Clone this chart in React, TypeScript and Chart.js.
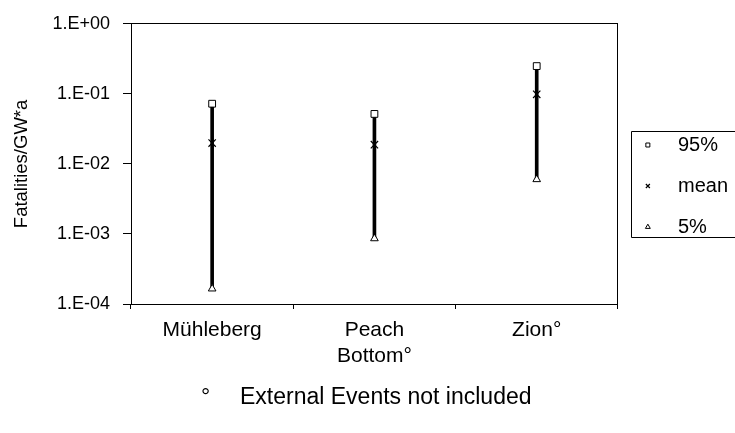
import React, { useEffect, useRef } from 'react';
import { Chart, registerables } from 'chart.js';

Chart.register(...registerables);

const plants = [['Mühleberg'], ['Peach', 'Bottom°'], ['Zion°']];
const p95 = [0.0723, 0.0517, 0.249];
const meanValues = [0.0198, 0.0188, 0.0986];
const p5 = [0.000165, 0.00086, 0.006];
const yTickValues = [1, 0.1, 0.01, 0.001, 0.0001];
const yTickLabels = ['1.E+00', '1.E-01', '1.E-02', '1.E-03', '1.E-04'];
const seriesNames = ['95%', 'mean', '5%'];
const yTitle = 'Fatalities/GW*a';
const footnoteMark = '°';
const footnoteText = 'External Events not included';

const FONT = "'Liberation Sans', Arial, sans-serif";

export default function App() {
  const ref = useRef<HTMLCanvasElement>(null);

  useEffect(() => {
    const canvas = ref.current;
    if (!canvas) return;

    const align = (v: number) => Math.round(v - 0.5) + 0.5;

    const framePlugin = {
      id: 'frame',
      afterDatasetsDraw(chart: any) {
        const { ctx, chartArea } = chart;
        ctx.save();
        ctx.strokeStyle = '#000';
        ctx.lineWidth = 1;
        const l = align(chartArea.left);
        const r = align(chartArea.right);
        const t = align(chartArea.top);
        const b = align(chartArea.bottom);
        ctx.strokeRect(l, t, r - l, b - t);
        ctx.restore();
      },
      afterDraw(chart: any) {
        const { ctx, chartArea } = chart;
        // footnote
        ctx.save();
        ctx.fillStyle = '#000';
        ctx.font = `23px ${FONT}`;
        ctx.textAlign = 'left';
        ctx.textBaseline = 'middle';
        ctx.fillText(footnoteMark, 201, 398);
        ctx.fillText(footnoteText, 240, 398);
        ctx.restore();
        // legend frame
        const legend = chart.legend;
        if (!legend || !legend.legendHitBoxes || !legend.legendHitBoxes.length) return;
        const boxes = legend.legendHitBoxes;
        const first = boxes[0];
        const last = boxes[boxes.length - 1];
        const x = align(chartArea.right + 14);
        const top = align(first.top + first.height / 2 - 14);
        const bottom = align(last.top + last.height / 2 + 10);
        ctx.save();
        ctx.strokeStyle = '#000';
        ctx.lineWidth = 1;
        ctx.beginPath();
        ctx.moveTo(chart.width + 5, top);
        ctx.lineTo(x, top);
        ctx.lineTo(x, bottom);
        ctx.lineTo(chart.width + 5, bottom);
        ctx.stroke();
        ctx.restore();
      },
    };

    Chart.defaults.font.family = FONT;
    Chart.defaults.color = '#000';

    const chart = new Chart(canvas, {
      type: 'bar',
      data: {
        labels: plants,
        datasets: [
          {
            type: 'line',
            label: seriesNames[0],
            data: p95,
            showLine: false,
            pointStyle: 'rect',
            pointRadius: 4.8,
            pointBackgroundColor: '#fff',
            pointBorderColor: '#000',
            pointBorderWidth: 1,
            backgroundColor: '#fff',
            borderColor: '#000',
            borderWidth: 1,
            order: 0,
          },
          {
            type: 'line',
            label: seriesNames[1],
            data: meanValues,
            showLine: false,
            pointStyle: 'crossRot',
            pointRadius: 5.2,
            pointBackgroundColor: '#000',
            pointBorderColor: '#000',
            pointBorderWidth: 1.2,
            backgroundColor: '#000',
            borderColor: '#000',
            borderWidth: 1,
            order: 0,
          },
          {
            type: 'line',
            label: seriesNames[2],
            data: p5,
            showLine: false,
            pointStyle: 'triangle',
            pointRadius: 4.4,
            pointBackgroundColor: '#fff',
            pointBorderColor: '#000',
            pointBorderWidth: 1,
            backgroundColor: '#fff',
            borderColor: '#000',
            borderWidth: 1,
            order: 0,
          },
          {
            type: 'bar',
            label: 'range',
            data: p5.map((lo, i) => [lo, p95[i]]),
            backgroundColor: '#000',
            borderWidth: 0,
            barThickness: 3,
            order: 10,
          },
        ],
      } as any,
      options: {
        responsive: false,
        maintainAspectRatio: false,
        animation: false,
        events: [],
        layout: { padding: { top: 19, left: 9, right: -3, bottom: 0 } },
        scales: {
          x: {
            type: 'category',
            offset: true,
            grid: {
              offset: true,
              drawOnChartArea: false,
              drawTicks: true,
              tickLength: 5,
              color: '#000',
            },
            border: { display: true, color: '#000', width: 1 },
            ticks: {
              color: '#000',
              font: { size: 21, family: FONT, lineHeight: 1.22 },
              padding: 8.4,
              maxRotation: 0,
              autoSkip: false,
            },
            afterFit: (scale: any) => {
              scale.height = 129;
            },
          },
          y: {
            type: 'logarithmic',
            min: 0.0001,
            max: 1,
            grid: {
              drawOnChartArea: false,
              drawTicks: true,
              tickLength: 8,
              color: '#000',
            },
            border: { display: true, color: '#000', width: 1 },
            ticks: {
              color: '#000',
              font: { size: 18, family: FONT },
              padding: 13,
              callback: (_v: any, i: number) => yTickLabels[i],
            },
            afterBuildTicks: (scale: any) => {
              scale.ticks = yTickValues.map((v) => ({ value: v }));
            },
            afterFit: (scale: any) => {
              scale.width = 122;
            },
            title: {
              display: true,
              text: yTitle,
              color: '#000',
              font: { size: 18.5, family: FONT },
              padding: { top: 1.5, bottom: 0 },
            },
          },
        },
        plugins: {
          tooltip: { enabled: false },
          title: { display: false },
          legend: {
            display: true,
            position: 'right',
            align: 'start',
            title: {
              display: true,
              text: ' ',
              font: { size: 20, family: FONT, lineHeight: 1.2 },
              padding: 35.5,
            },
            labels: {
              usePointStyle: true,
              boxWidth: 18,
              boxHeight: 4,
              padding: 21,
              color: '#000',
              font: { size: 20, family: FONT },
              filter: (item: any) => item.datasetIndex < 3,
              generateLabels: (c: any) =>
                (Chart.defaults.plugins.legend.labels.generateLabels as any)(c).map((it: any) => ({
                  ...it,
                  text: '  ' + it.text,
                })),
            },
          },
        },
      } as any,
      plugins: [framePlugin],
    });

    return () => chart.destroy();
  }, []);

  return (
    <div style={{ position: 'absolute', left: 0, top: 0, width: 735, height: 433, background: '#fff' }}>
      <canvas ref={ref} width={735} height={433} style={{ display: 'block', width: 735, height: 433 }} />
    </div>
  );
}
